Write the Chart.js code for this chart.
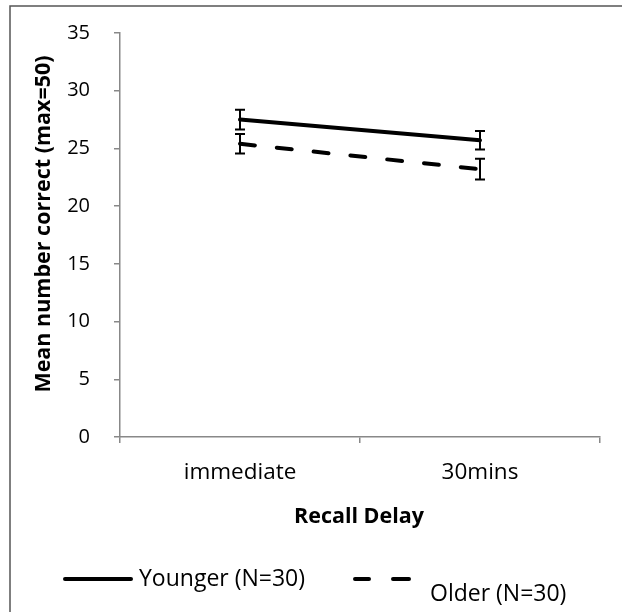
<!DOCTYPE html>
<html>
<head>
<meta charset="utf-8">
<script src="https://cdn.jsdelivr.net/npm/chart.js@4.4.0/dist/chart.umd.min.js"></script>
<style>
 html, body { margin: 0; padding: 0; background: #fff; }
 #wrap { width: 622px; height: 612px; }
</style>
</head>
<body>
<div id="wrap"><canvas id="chart" width="622" height="612"></canvas></div>
<script>
// Data
const categories = ['immediate', '30mins'];
const younger = [27.5, 25.7];
const youngerErr = [0.85, 0.8];
const older = [25.4, 23.2];
const olderErr = [0.85, 0.9];
const yTicks = [0, 5, 10, 15, 20, 25, 30, 35];

const FONT = "'Open Sans', 'Noto Sans', sans-serif";

// error bars with caps, drawn through the chart's own scales
const errorBars = {
 id: 'errorBars',
 afterDatasetsDraw(chart) {
  const ctx = chart.ctx;
  const xs = chart.scales.x, ys = chart.scales.y;
  chart.data.datasets.forEach(ds => {
   ctx.save();
   ctx.strokeStyle = '#000';
   ctx.lineWidth = 2;
   ds.data.forEach((v, i) => {
    const x = xs.getPixelForValue(i);
    const top = ys.getPixelForValue(v + ds.err[i]);
    const bot = ys.getPixelForValue(v - ds.err[i]);
    ctx.beginPath();
    ctx.moveTo(x, top); ctx.lineTo(x, bot);
    ctx.moveTo(x - 5, top); ctx.lineTo(x + 5, top);
    ctx.moveTo(x - 5, bot); ctx.lineTo(x + 5, bot);
    ctx.stroke();
   });
   ctx.restore();
  });
 }
};

// frame, axis titles and legend
const decorations = {
 id: 'decorations',
 afterDraw(chart) {
  const ctx = chart.ctx;
  ctx.save();
  ctx.strokeStyle = '#555';
  ctx.lineWidth = 1.5;
  ctx.beginPath();
  ctx.moveTo(10, 612); ctx.lineTo(10, 6); ctx.lineTo(622, 6);
  ctx.stroke();

  ctx.fillStyle = '#000';
  ctx.textAlign = 'center';
  ctx.textBaseline = 'middle';
  ctx.font = 'bold 21.5px ' + FONT;
  ctx.fillText('Recall Delay', 359, 517);

  ctx.save();
  ctx.translate(44, 224);
  ctx.rotate(-Math.PI / 2);
  ctx.fillText('Mean number correct (max=50)', 0, 0);
  ctx.restore();

  // legend
  ctx.lineCap = 'round';
  ctx.lineWidth = 4;
  ctx.strokeStyle = '#000';
  ctx.beginPath();
  ctx.moveTo(65, 579); ctx.lineTo(131, 579);
  ctx.stroke();
  ctx.beginPath();
  ctx.moveTo(355, 579); ctx.lineTo(369, 579);
  ctx.moveTo(393, 579); ctx.lineTo(409, 579);
  ctx.stroke();

  ctx.font = '23px ' + FONT;
  ctx.textAlign = 'left';
  ctx.fillText('Younger (N=30)', 139, 579);
  ctx.fillText('Older (N=30)', 430, 594);
  ctx.restore();
 }
};

new Chart(document.getElementById('chart'), {
 type: 'line',
 data: {
  labels: categories,
  datasets: [
   { label: 'Younger (N=30)', data: younger, err: youngerErr,
     borderColor: '#000', borderWidth: 4, pointRadius: 0, fill: false,
     borderCapStyle: 'round' },
   { label: 'Older (N=30)', data: older, err: olderErr,
     borderColor: '#000', borderWidth: 4, pointRadius: 0, fill: false,
     borderDash: [15, 22], borderCapStyle: 'round' }
  ]
 },
 options: {
  responsive: false,
  animation: false,
  layout: { padding: { left: 0, top: 33, right: 22, bottom: 0 } },
  plugins: { legend: { display: false }, tooltip: { enabled: false } },
  scales: {
   x: {
    type: 'category',
    offset: true,
    grid: { display: true, drawOnChartArea: false, offset: true, tickLength: 6, color: '#888', lineWidth: 1.5 },
    border: { color: '#888', width: 1.5 },
    ticks: { color: '#000', font: { family: FONT, size: 22.5 }, padding: 16 },
    afterFit(scale) { scale.height = 175; }
   },
   y: {
    min: 0, max: 35,
    afterBuildTicks(scale) { scale.ticks = yTicks.map(v => ({ value: v })); },
    grid: { display: true, drawOnChartArea: false, tickLength: 6, color: '#888', lineWidth: 1.5 },
    border: { color: '#888', width: 1.5 },
    ticks: { color: '#000', font: { family: FONT, size: 20 }, padding: 24 },
    afterFit(scale) {
     scale.width = 120;
     // tick padding would otherwise push the plot area down
     scale.paddingTop = 12;
     scale.paddingBottom = 12;
    }
   }
  }
 },
 plugins: [errorBars, decorations]
});
</script>
</body>
</html>
